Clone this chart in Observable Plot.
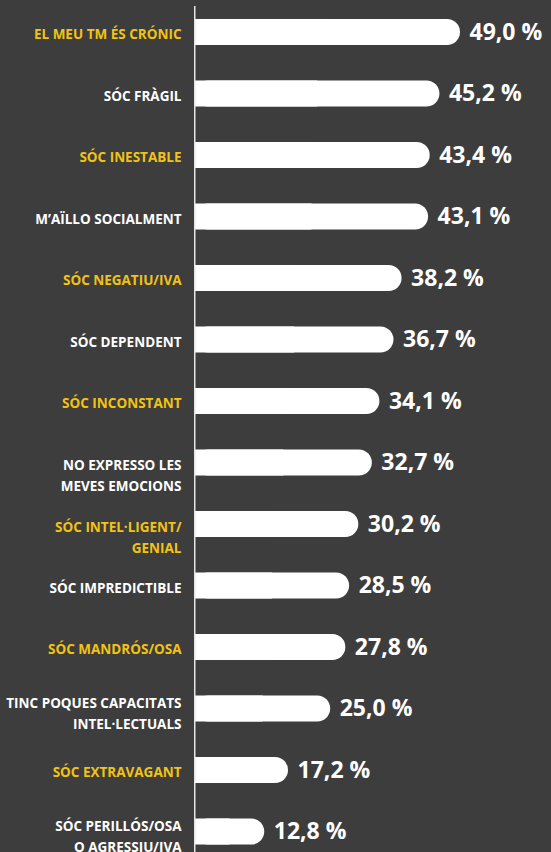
<!DOCTYPE html>
<html>
<head>
<meta charset="utf-8">
<script src="https://cdn.jsdelivr.net/npm/d3@7"></script>
<script src="https://cdn.jsdelivr.net/npm/@observablehq/plot@0.6"></script>
<style>
  html, body { margin: 0; padding: 0; background: #3d3d3d; }
  #chart { width: 551px; height: 852px; overflow: hidden; }
</style>
</head>
<body>
<div id="chart"></div>
<script>
const categories = [
  "EL MEU TM ÉS CRÓNIC",
  "SÓC FRÀGIL",
  "SÓC INESTABLE",
  "M’AÏLLO SOCIALMENT",
  "SÓC NEGATIU/IVA",
  "SÓC DEPENDENT",
  "SÓC INCONSTANT",
  "NO EXPRESSO LES\nMEVES EMOCIONS",
  "SÓC INTEL·LIGENT/\nGENIAL",
  "SÓC IMPREDICTIBLE",
  "SÓC MANDRÓS/OSA",
  "TINC POQUES CAPACITATS\nINTEL·LECTUALS",
  "SÓC EXTRAVAGANT",
  "SÓC PERILLÓS/OSA\nO AGRESSIU/IVA"
];
const values = [49.0, 45.2, 43.4, 43.1, 38.2, 36.7, 34.1, 32.7, 30.2, 28.5, 27.8, 25.0, 17.2, 12.8];

const data = categories.map((c, i) => ({cat: c, value: values[i], i}));
const fmt = v => d3.format(".1f")(v).replace(".", ",") + " %";
const YELLOW = "#f2c314";
const labelColor = d => d.i % 2 === 0 ? YELLOW : "#ffffff";

const singles = data.filter(d => !d.cat.includes("\n"));
const twoA = data.filter(d => d.i === 7 || d.i === 8);
const twoB = data.filter(d => d.i === 11 || d.i === 13);

const labelOpts = {
  y: "cat", x: () => 0, text: "cat", textAnchor: "end", dx: -14,
  fontSize: 13.5, fontWeight: 700, fill: labelColor, lineHeight: 1.58
};

const chart = Plot.plot({
  width: 551,
  height: 852,
  marginTop: 6,
  marginBottom: 0,
  marginLeft: 0,
  marginRight: 0,
  style: {background: "#3d3d3d", fontFamily: "'Open Sans', sans-serif"},
  x: {domain: [0, 49], range: [195, 460], axis: null},
  y: {domain: categories, range: [-16.5, 880], padding: 0.577, round: false, axis: null},
  marks: [
    Plot.barX(data, {y: "cat", x: "value", fill: "#ffffff", rx: 13}),
    Plot.barX(data, {y: "cat", x1: 0, x2: d => d.value / 2, fill: "#ffffff"}),
    Plot.ruleX([0], {stroke: "#e6e6e6", strokeWidth: 1.5, dx: -0.75}),
    Plot.text(data, {y: "cat", x: "value", text: d => fmt(d.value), textAnchor: "start", dx: 9,
      fontSize: 23, fontWeight: 700, fill: "#ffffff"}),
    Plot.text(singles, labelOpts),
    Plot.text(twoA, {...labelOpts, dy: 11}),
    Plot.text(twoB, {...labelOpts, dy: 3})
  ]
});
document.getElementById("chart").appendChild(chart);
</script>
</body>
</html>
